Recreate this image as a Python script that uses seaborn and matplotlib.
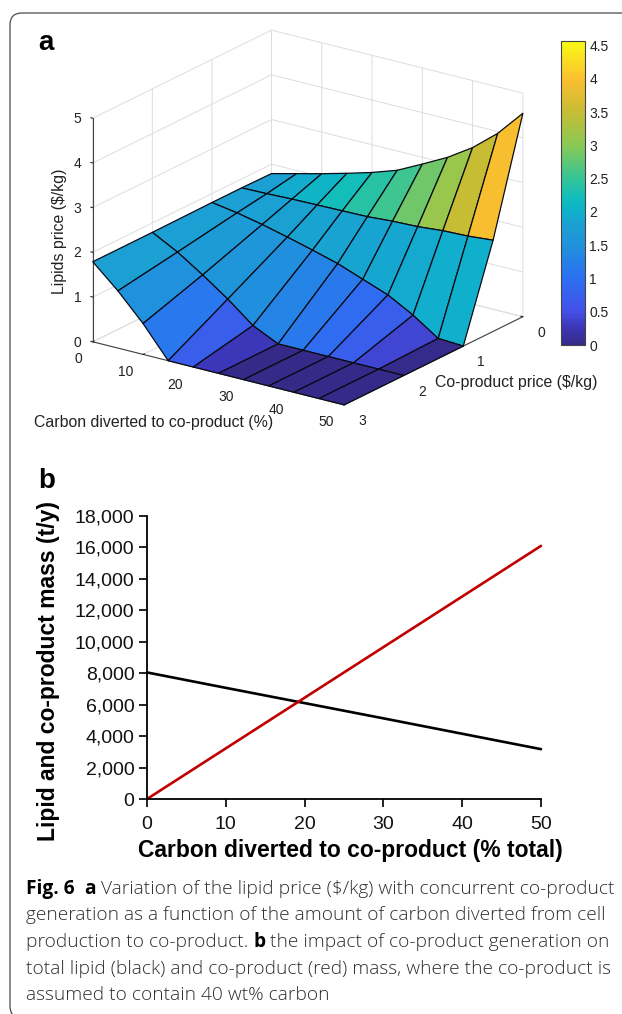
import numpy as np
import pandas as pd
import matplotlib
matplotlib.use("Agg")
import matplotlib.pyplot as plt
import seaborn as sns
from matplotlib.colors import LinearSegmentedColormap, Normalize
from matplotlib.cm import ScalarMappable
from matplotlib.patches import FancyBboxPatch

carbon = [0, 5, 10, 15, 20, 25, 30, 35, 40, 45, 50]
coprice = [0, 0.5, 1, 2, 3]
z_p0 = [1.79, 1.93, 2.07, 2.22, 2.38, 2.57, 2.85, 3.14, 3.50, 3.96, 4.55]
z_p05 = [1.80, 1.81, 1.83, 1.84, 1.85, 1.86, 1.90, 1.92, 1.97, 1.99, 2.04]
z_p1 = [1.80, 1.71, 1.59, 1.45, 1.30, 1.14, 0.93, 0.72, 0.41, 0.03, 0.0]
z_p2 = [1.79, 1.49, 1.12, 0.72, 0.27, 0.0, 0.0, 0.0, 0.0, 0.0, 0.0]
z_p3 = [1.79, 1.28, 0.69, 0.0, 0.0, 0.0, 0.0, 0.0, 0.0, 0.0, 0.0]

b_carbon = [0, 10, 20, 30, 40, 50]
lipid_mass = [8050, 7070, 6100, 5130, 4150, 3170]
coproduct_mass = [0, 3220, 6440, 9660, 12880, 16100]

zmax = 4.57
cmap_values = [0, .25, .5, 1, 1.5, 1.8, 2, 2.2, 2.5, 3, 3.5, 4, zmax]
cmap_colors = ["#352a87", "#3b35b5", "#4450e8", "#2c70f2", "#1f92dc", "#1c9fd3", "#0fb0cc",
               "#10bdbd", "#35c497", "#88c956", "#c6bd35", "#fbbf30", "#f9fb15"]
parula = LinearSegmentedColormap.from_list("parula_like", [(v / zmax, c) for v, c in zip(cmap_values, cmap_colors)])

W, H = 622, 1014
sns.set_style("white")
plt.rcParams['font.family'] = ['Liberation Sans', 'DejaVu Sans']
plt.rcParams['text.color'] = 'black'
fig = plt.figure(figsize=(W / 100, H / 100), dpi=100)
fig.patch.set_facecolor("white")

def fx(px): return px / W
def fy(py): return 1 - py / H

card = FancyBboxPatch((10, H - 1018), 700, 1005, boxstyle="round,pad=0,rounding_size=12",
                      transform=None, fc="white", ec="#4a4a4a", lw=0.9, zorder=-5)
fig.patches.append(card)
card.set_figure(fig)

# panel a
Z = np.array([z_p0, z_p05, z_p1, z_p2, z_p3])
X, Y = np.meshgrid(carbon, coprice)
norm = Normalize(0, zmax)
fc = parula(norm(Z))
side = 520
cx, cy = 300.8, 224.5
ax3 = fig.add_axes([fx(cx - side / 2), fy(cy + side / 2), side / W, side / H], projection="3d", proj_type="ortho")
ax3.patch.set_alpha(0)
ax3.view_init(elev=20.6, azim=-54.5)
ax3.set_box_aspect((309, 308, 239), zoom=0.928)
ax3.plot_surface(X, Y, Z, facecolors=fc, rstride=1, cstride=1, shade=False,
                 edgecolor="#0a0a14", linewidth=0.9, antialiased=True)
ax3.set_xlim(0, 50, view_margin=0)
ax3.set_ylim(3, 0, view_margin=0)
ax3.set_zlim(0, 5, view_margin=0)
ax3.set_xticks([0, 10, 20, 30, 40, 50])
ax3.set_yticks([0, 1, 2, 3])
ax3.set_zticks([0, 1, 2, 3, 4, 5])
ax3.zaxis.set_ticks_position("upper")
for a in (ax3.xaxis, ax3.yaxis, ax3.zaxis):
    a.set_pane_color((1, 1, 1, 0))
    a.pane.set_edgecolor((1, 1, 1, 0))
    a.line.set_color("#444444")
    a.line.set_linewidth(0.8)
    a._axinfo["grid"]["color"] = "#dddddd"
    a._axinfo["grid"]["linewidth"] = 0.7
    a._axinfo["tick"]["color"] = "#444444"
    a._axinfo["tick"]["inward_factor"] = 0.0
    a._axinfo["tick"]["outward_factor"] = 0.1
ax3.tick_params(labelsize=10, colors="#222222")
ax3.tick_params(axis="x", pad=3)
ax3.tick_params(axis="y", pad=3)
ax3.tick_params(axis="z", pad=-1)
for t in ax3.get_xticklabels():
    t.set_ha("right")
    t.set_va("center")
for t in ax3.get_yticklabels():
    t.set_ha("left")
    t.set_va("center")
for t in ax3.get_zticklabels():
    t.set_va("center")
fig.text(fx(154), fy(423), "Carbon diverted to co-product (%)", fontsize=11.4, ha="center", va="center", color="#222222")
fig.text(fx(516), fy(383), "Co-product price ($/kg)", fontsize=11.4, ha="center", va="center", color="#222222")
fig.text(fx(59.5), fy(231), "Lipids price ($/kg)", fontsize=11.4, rotation=90, ha="center", va="center", color="#222222")

cax = fig.add_axes([fx(561), fy(345), 24 / W, 304 / H])
cb = fig.colorbar(ScalarMappable(norm=norm, cmap=parula), cax=cax, ticks=[0, .5, 1, 1.5, 2, 2.5, 3, 3.5, 4, 4.5])
cb.ax.set_yticklabels(["0", "0.5", "1", "1.5", "2", "2.5", "3", "3.5", "4", "4.5"])
cb.ax.tick_params(labelsize=10, length=2, width=0.6, direction="in", pad=3, colors="#222222")
cb.outline.set_linewidth(0.8)
cb.outline.set_edgecolor("#444444")

# panel b
axb = fig.add_axes([fx(147), fy(799), 394 / W, 283 / H])
df = pd.DataFrame({"carbon": b_carbon * 2,
                   "mass": lipid_mass + coproduct_mass,
                   "series": ["Lipid"] * 6 + ["Co-product"] * 6})
sns.lineplot(data=df, x="carbon", y="mass", hue="series", palette={"Lipid": "black", "Co-product": "#c00000"},
             linewidth=1.9, legend=False, ax=axb, clip_on=False, errorbar=None)
axb.set_xlim(0, 50)
axb.set_ylim(0, 18000)
axb.set_yticks(range(0, 18001, 2000))
axb.set_yticklabels([f"{v:,}" for v in range(0, 18001, 2000)])
axb.set_xticks(range(0, 51, 10))
axb.patch.set_alpha(0)
for s in ("top", "right"):
    axb.spines[s].set_visible(False)
for s in ("left", "bottom"):
    axb.spines[s].set_linewidth(1.3)
    axb.spines[s].set_color("black")
axb.tick_params(labelsize=14, length=6, width=1.3, bottom=True, left=True, colors="#111111")
axb.tick_params(axis="x", pad=6.5)
axb.tick_params(axis="y", pad=3)
axb.set_xlabel("")
axb.set_ylabel("")
fig.text(fx(350), fy(851), "Carbon diverted to co-product (% total)", fontsize=16.5, fontweight="bold", ha="center", va="center")
fig.text(fx(49), fy(671), "Lipid and co-product mass (t/y)", fontsize=16.5, fontweight="bold", rotation=90, ha="center", va="center")

fig.text(fx(38), fy(43), "a", fontsize=20, fontweight="bold", va="center")
fig.text(fx(38), fy(481), "b", fontsize=20, fontweight="bold", va="center")

# caption
cap_font = ["Open Sans", "DejaVu Sans"]
cap_size = 13.8
cap_color = "#2e2e2e"
lines = [
    [("Fig. 6", True), ("  ", False), ("a", True), (" Variation of the lipid price ($/kg) with concurrent co-product", False)],
    [("generation as a function of the amount of carbon diverted from cell", False)],
    [("production to co-product. ", False), ("b", True), (" the impact of co-product generation on", False)],
    [("total lipid (black) and co-product (red) mass, where the co-product is", False)],
    [("assumed to contain 40 wt% carbon", False)],
]
line_y = [889, 915, 942, 969, 995]
rend = fig.canvas.get_renderer()
for runs, ly in zip(lines, line_y):
    x = 26.0
    for s, bold in runs:
        t = fig.text(fx(x), fy(ly), s, fontsize=cap_size, family=cap_font,
                     fontweight="bold" if bold else "light", color="black" if bold else cap_color,
                     va="center", ha="left")
        weight = "bold" if bold else "light"
        tmp = fig.text(0, 0, "|" + s + "|", fontsize=cap_size, family=cap_font, fontweight=weight)
        tmp2 = fig.text(0, 0, "||", fontsize=cap_size, family=cap_font, fontweight=weight)
        x += tmp.get_window_extent(rend).width - tmp2.get_window_extent(rend).width
        tmp.remove()
        tmp2.remove()

fig.savefig("out.png", dpi=100)
